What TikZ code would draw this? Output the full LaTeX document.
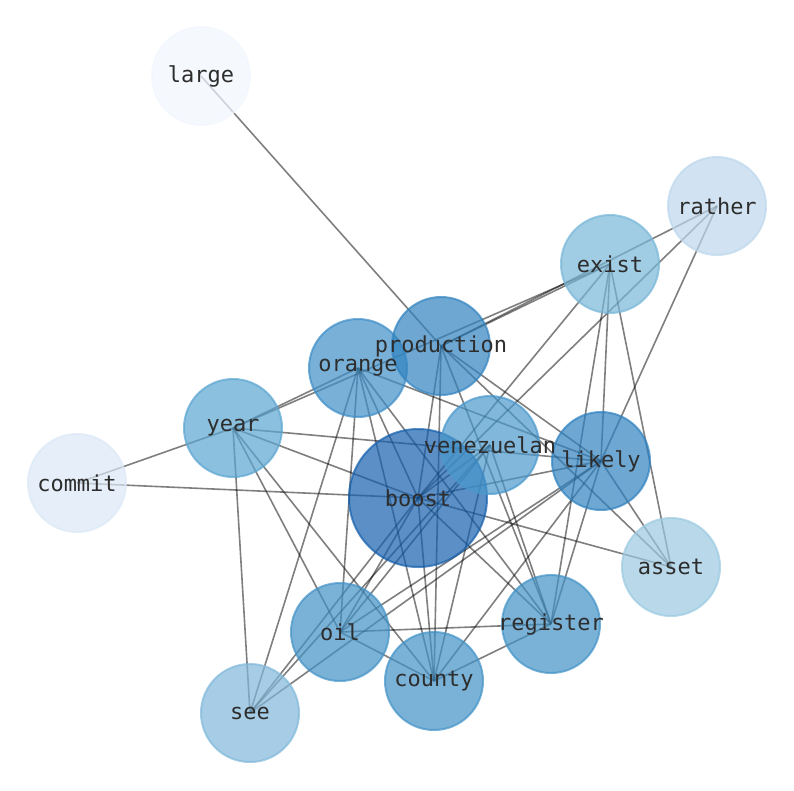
\documentclass[tikz,border=0pt]{standalone}
\usepackage{fontspec}
\setmonofont{DejaVu Sans Mono}
\pgfdeclarelayer{bg}
\pgfsetlayers{bg,main}
\definecolor{cBoost}{RGB}{21,95,172}
\definecolor{cProd}{RGB}{49,131,191}
\definecolor{cLikely}{RGB}{47,129,191}
\definecolor{cOrange}{RGB}{62,142,199}
\definecolor{cOil}{RGB}{66,146,198}
\definecolor{cVen}{RGB}{74,152,204}
\definecolor{cYear}{RGB}{91,165,209}
\definecolor{cExist}{RGB}{119,182,216}
\definecolor{cSee}{RGB}{128,184,218}
\definecolor{cAsset}{RGB}{155,201,225}
\definecolor{cRather}{RGB}{189,215,236}
\definecolor{cCommit}{RGB}{219,232,246}
\definecolor{cLarge}{RGB}{241,246,254}
\definecolor{txt}{RGB}{45,45,45}
\tikzset{
  ball/.style={circle, inner sep=0pt, minimum size=98pt, line width=2pt,
    fill=#1, draw=#1, fill opacity=0.7, draw opacity=0.7},
  bigball/.style={ball=#1, minimum size=138pt},
  lbl/.style={inner sep=0pt, text=txt, font=\fontsize{22}{22}\selectfont\ttfamily},
  edge/.style={draw=black, draw opacity=0.5, line width=1.6pt}
}
\begin{document}
\begin{tikzpicture}[x=1pt, y=-1pt]
\useasboundingbox (0,0) rectangle (794,790);
% circles
\node[ball=cLarge] (large) at (201,76) {};
\node[ball=cRather] (rather) at (717,206) {};
\node[ball=cExist] (exist) at (610,264) {};
\node[ball=cYear] (year) at (233,428) {};
\node[ball=cCommit] (commit) at (77,483) {};
\node[bigball=cBoost] (boost) at (418,498) {};
\node[ball=cVen] (venezuelan) at (490,445) {};
\node[ball=cLikely] (likely) at (601,461) {};
\node[ball=cOrange] (orange) at (358,368) {};
\node[ball=cProd] (production) at (441,346) {};
\node[ball=cAsset] (asset) at (671,567) {};
\node[ball=cOil] (register) at (551,624) {};
\node[ball=cOil] (oil) at (340,632) {};
\node[ball=cOil] (county) at (434,681) {};
\node[ball=cSee] (see) at (250,713) {};
% labels
\node[lbl] (large-t) at (large) {large};
\node[lbl] (rather-t) at (rather) {rather};
\node[lbl] (exist-t) at (exist) {exist};
\node[lbl] (year-t) at (year) {year};
\node[lbl] (commit-t) at (commit) {commit};
\node[lbl] (venezuelan-t) at (venezuelan) {venezuelan};
\node[lbl] (likely-t) at (likely) {likely};
\node[lbl] (boost-t) at (boost) {boost};
\node[lbl] (orange-t) at (orange) {orange};
\node[lbl] (production-t) at (production) {production};
\node[lbl] (asset-t) at (asset) {asset};
\node[lbl] (register-t) at (register) {register};
\node[lbl] (oil-t) at (oil) {oil};
\node[lbl] (county-t) at (county) {county};
\node[lbl] (see-t) at (see) {see};
% edges
\begin{pgfonlayer}{bg}
\foreach \a/\b in {large/production, rather/production, rather/boost, rather/likely,
  exist/production, exist/boost, exist/register, exist/likely, exist/asset,
  year/exist, year/commit, year/orange, year/likely, year/boost, year/oil, year/county, year/see,
  commit/boost, orange/see, orange/oil, orange/county, orange/boost, orange/register, orange/likely,
  production/boost, production/county, production/register, production/likely, production/asset,
  boost/asset, boost/see, boost/oil, boost/register, boost/county, boost/likely, boost/venezuelan,
  venezuelan/see, venezuelan/oil, venezuelan/register, venezuelan/county,
  likely/oil, likely/county, likely/register, likely/see, likely/asset,
  oil/register, oil/county, county/register}
  \draw[edge] (\a.center) -- (\b.center);
\end{pgfonlayer}
\end{tikzpicture}
\end{document}
